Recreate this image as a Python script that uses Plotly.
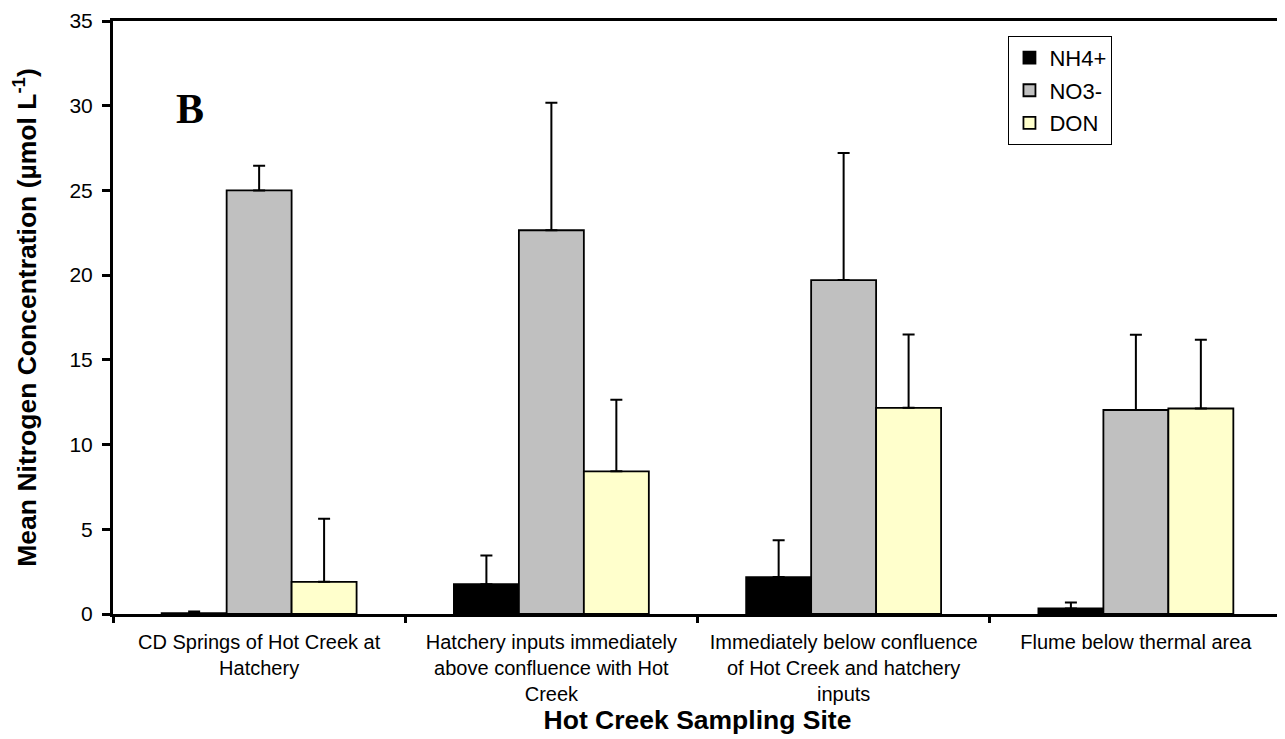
import plotly.graph_objects as go

sites = [
    "CD Springs of Hot Creek at<br>Hatchery",
    "Hatchery inputs immediately<br>above confluence with Hot<br>Creek",
    "Immediately below confluence<br>of Hot Creek and hatchery<br>inputs",
    "Flume below thermal area",
]
nh4 = [0.05, 1.76, 2.18, 0.33]
nh4_err = [0.10, 1.70, 2.17, 0.35]
no3 = [25.0, 22.65, 19.71, 12.04]
no3_err = [1.46, 7.53, 7.50, 4.44]
don = [1.90, 8.42, 12.17, 12.13]
don_err = [3.72, 4.22, 4.33, 4.06]

series = [
    ("NH4+", nh4, nh4_err, "#000000"),
    ("NO3-", no3, no3_err, "#c0c0c0"),
    ("DON", don, don_err, "#ffffcc"),
]

fig = go.Figure()
for name, vals, errs, color in series:
    fig.add_trace(go.Bar(
        name=name, x=sites, y=vals, legendgroup=name,
        marker=dict(color=color, line=dict(color="black", width=1.8)),
        error_y=dict(type="data", symmetric=False, array=errs,
                     arrayminus=[0] * len(errs), color="black",
                     thickness=2, width=6),
    ))

fig.update_layout(
    width=1277, height=731,
    margin=dict(l=105, r=3, t=13, b=124.5),
    paper_bgcolor="white", plot_bgcolor="white",
    font=dict(family="Liberation Sans, Arial", color="black"),
    barmode="group", bargap=0.333, bargroupgap=0,
    showlegend=True,
    legend=dict(x=0.766, y=0.975, xanchor="left", yanchor="top",
                bordercolor="black", borderwidth=1, bgcolor="white",
                font=dict(size=22, family="Liberation Sans, Arial"),
                tracegroupgap=1),
    xaxis=dict(
        showline=True, linecolor="black", linewidth=3, mirror=True,
        ticks="outside", tickson="boundaries", ticklen=6, tickwidth=3,
        tickcolor="black", tickfont=dict(size=20), automargin=False,
        ticklabelstandoff=8,
        title=dict(text="<b>Hot Creek Sampling Site</b>",
                   font=dict(size=26.5), standoff=3),
        showgrid=False,
    ),
    yaxis=dict(
        range=[0, 35], dtick=5,
        showline=True, linecolor="black", linewidth=3, mirror=True,
        ticks="outside", ticklen=8, tickwidth=3, tickcolor="black",
        tickfont=dict(size=21), automargin=False,
        ticklabelstandoff=5, ticklabeloverflow="allow",
        title=dict(text="<b>Mean Nitrogen Concentration (µmol L<sup>-1</sup>)</b>",
                   font=dict(size=26.5), standoff=30),
        showgrid=False, zeroline=False,
    ),
    annotations=[dict(
        text="<b>B</b>", x=0.052, y=29.8, xref="paper", yref="y",
        showarrow=False,
        font=dict(family="Liberation Serif, Times New Roman", size=42),
    )],
)

fig.write_html("out.html")
